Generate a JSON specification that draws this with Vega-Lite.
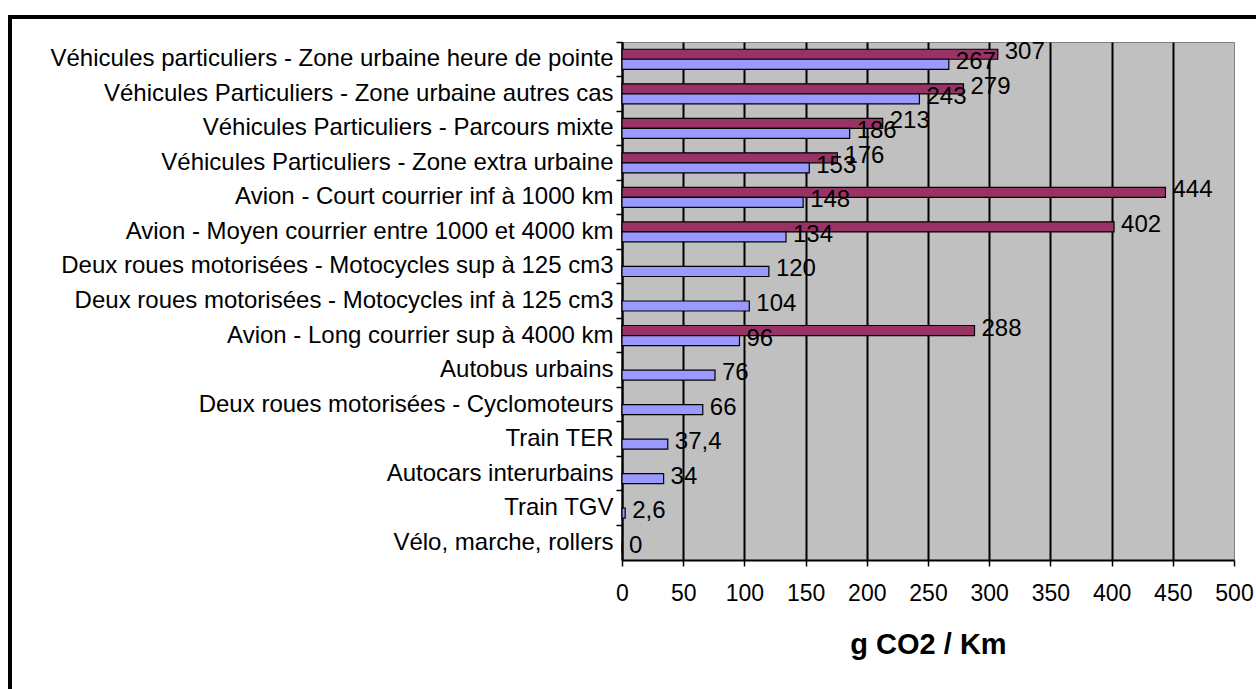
{
  "$schema": "https://vega.github.io/schema/vega-lite/v6.json",
  "autosize": "none",
  "width": 612,
  "height": 518,
  "padding": {"left": 622, "top": 42, "right": 22, "bottom": 129},
  "background": "white",
  "data": {
    "values": [
      {"cat": "Véhicules particuliers - Zone urbaine heure de pointe", "series": "Série 1", "value": 307},
      {"cat": "Véhicules particuliers - Zone urbaine heure de pointe", "series": "Série 2", "value": 267},
      {"cat": "Véhicules Particuliers - Zone urbaine autres cas\u00a0", "series": "Série 1", "value": 279},
      {"cat": "Véhicules Particuliers - Zone urbaine autres cas\u00a0", "series": "Série 2", "value": 243},
      {"cat": "Véhicules Particuliers - Parcours mixte", "series": "Série 1", "value": 213},
      {"cat": "Véhicules Particuliers - Parcours mixte", "series": "Série 2", "value": 186},
      {"cat": "Véhicules Particuliers - Zone extra urbaine", "series": "Série 1", "value": 176},
      {"cat": "Véhicules Particuliers - Zone extra urbaine", "series": "Série 2", "value": 153},
      {"cat": "Avion - Court courrier inf à 1000 km", "series": "Série 1", "value": 444},
      {"cat": "Avion - Court courrier inf à 1000 km", "series": "Série 2", "value": 148},
      {"cat": "Avion - Moyen courrier entre 1000 et 4000 km", "series": "Série 1", "value": 402},
      {"cat": "Avion - Moyen courrier entre 1000 et 4000 km", "series": "Série 2", "value": 134},
      {"cat": "Deux roues motorisées - Motocycles sup à 125 cm3", "series": "Série 2", "value": 120},
      {"cat": "Deux roues motorisées - Motocycles inf à 125 cm3", "series": "Série 2", "value": 104},
      {"cat": "Avion - Long courrier sup à 4000 km", "series": "Série 1", "value": 288},
      {"cat": "Avion - Long courrier sup à 4000 km", "series": "Série 2", "value": 96},
      {"cat": "Autobus urbains\u00a0", "series": "Série 2", "value": 76},
      {"cat": "Deux roues motorisées - Cyclomoteurs", "series": "Série 2", "value": 66},
      {"cat": "Train TER", "series": "Série 2", "value": 37.4},
      {"cat": "Autocars interurbains\u00a0", "series": "Série 2", "value": 34},
      {"cat": "Train TGV\u00a0", "series": "Série 2", "value": 2.6},
      {"cat": "Vélo, marche, rollers", "series": "Série 2", "value": 0}
    ]
  },
  "layer": [
    {
      "mark": {"type": "bar", "stroke": "black", "strokeWidth": 1.2},
      "encoding": {
        "y": {
          "field": "cat", "type": "nominal", "sort": null,
          "scale": {"paddingInner": 0, "paddingOuter": 0},
          "axis": {
            "title": null,
            "domainColor": "black", "domainWidth": 2,
            "tickColor": "black", "tickSize": 6, "tickWidth": 1.5,
            "bandPosition": 0,
            "labelFont": "Liberation Sans", "labelFontSize": 24, "labelColor": "black",
            "labelPadding": 3, "labelLimit": 1000
          }
        },
        "yOffset": {
          "field": "series", "type": "nominal",
          "scale": {"paddingInner": 0, "paddingOuter": 0.725}
        },
        "x": {
          "field": "value", "type": "quantitative",
          "scale": {"domain": [0, 500], "nice": false},
          "axis": {
            "values": [0, 50, 100, 150, 200, 250, 300, 350, 400, 450, 500],
            "grid": true,
            "gridColor": {"condition": {"test": "datum.value >= 500", "value": "transparent"}, "value": "black"},
            "gridWidth": 2,
            "domainColor": "black", "domainWidth": 2,
            "tickColor": "black", "tickSize": 6, "tickWidth": 1.5,
            "labelFont": "Liberation Sans", "labelFontSize": 23, "labelColor": "black",
            "labelPadding": 16, "labelFlush": false,
            "title": "g CO2 / Km",
            "titleFont": "Liberation Sans", "titleFontSize": 29, "titleFontWeight": "bold",
            "titleColor": "black", "titlePadding": 25
          }
        },
        "color": {
          "field": "series", "type": "nominal",
          "scale": {"domain": ["Série 1", "Série 2"], "range": ["#993366", "#9999FF"]},
          "legend": {
            "orient": "none", "legendX": -612, "legendY": -25,
            "padding": 700, "strokeColor": "black", "title": null,
            "symbolOpacity": 0, "labelOpacity": 0, "symbolSize": 1, "labelFontSize": 1,
            "labelExpr": "''"
          }
        }
      }
    },
    {
      "mark": {"type": "text", "align": "left", "baseline": "middle", "dx": 7, "dy": -2,
               "font": "Liberation Sans", "fontSize": 24, "color": "black"},
      "encoding": {
        "y": {"field": "cat", "type": "nominal", "sort": null},
        "yOffset": {"field": "series", "type": "nominal"},
        "x": {"field": "value", "type": "quantitative"},
        "text": {"field": "value", "type": "quantitative", "format": "~g"}
      }
    }
  ],
  "config": {
    "locale": {"number": {"decimal": ",", "thousands": "\u00a0", "grouping": [3], "currency": ["", " €"]}},
    "view": {"fill": "#C0C0C0", "stroke": "#808080", "strokeWidth": 1},
    "legend": {"strokeWidth": 4},
    "axis": {"labelOverlap": false}
  }
}
